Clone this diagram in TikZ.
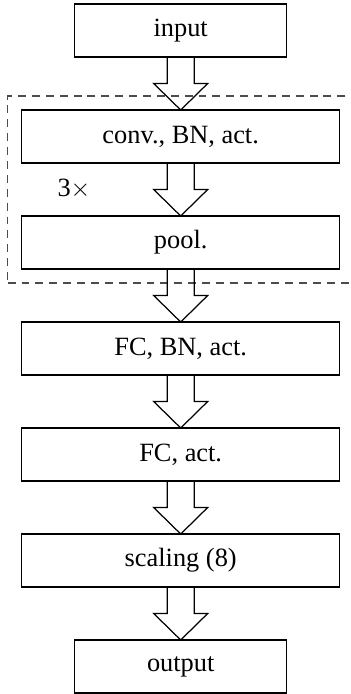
\documentclass[tikz,border=0pt]{standalone}
\usepackage{fontspec}
\setmainfont{Liberation Serif}
\usetikzlibrary{positioning,calc,fit}
\begin{document}
\begin{tikzpicture}[
    layer/.style={draw, line width=0.7pt, minimum width=6.36cm, minimum height=1.06cm,
      inner sep=0pt, outer sep=0pt, font=\fontsize{15}{18}\selectfont},
    io/.style={layer, minimum width=4.24cm},
    flow/.style={draw, line width=0.7pt, line join=miter},
    repeat/.style={draw=black!70, line width=0.7pt, dash pattern=on 4.5pt off 3.4pt,
      inner sep=0.28cm},
    node distance=1.06cm
  ]
  \useasboundingbox (0,0) rectangle (7,-13.88);
  \node[io] (input) at (3.614,-0.61) {input};
  \node[layer, below=of input] (conv) {conv., BN, act.};
  \node[layer, below=of conv] (pool) {pool.};
  \node[layer, below=of pool] (fc1) {FC, BN, act.};
  \node[layer, below=of fc1] (fc2) {FC, act.};
  \node[layer, below=of fc2] (scale) {scaling (8)};
  \node[io, below=of scale] (output) {output};
  % repeated block
  \node[repeat, fit=(conv)(pool)] (rep) {};
  \node[font=\fontsize{15}{18}\selectfont] (times) at (1.48,-3.78) {3$\times$};
  % block arrows
  \foreach \a/\b in {input/conv, conv/pool, pool/fc1, fc1/fc2, fc2/scale, scale/output}
    \draw[flow] ($(\a.south)+(-0.27,0)$)
      -- ($(\a.south)!0.5!(\b.north)+(-0.27,0)$) -- ++(-0.27,0)
      -- (\b.north)
      -- ($(\a.south)!0.5!(\b.north)+(0.54,0)$) -- ++(-0.27,0)
      -- ($(\a.south)+(0.27,0)$);
\end{tikzpicture}
\end{document}
